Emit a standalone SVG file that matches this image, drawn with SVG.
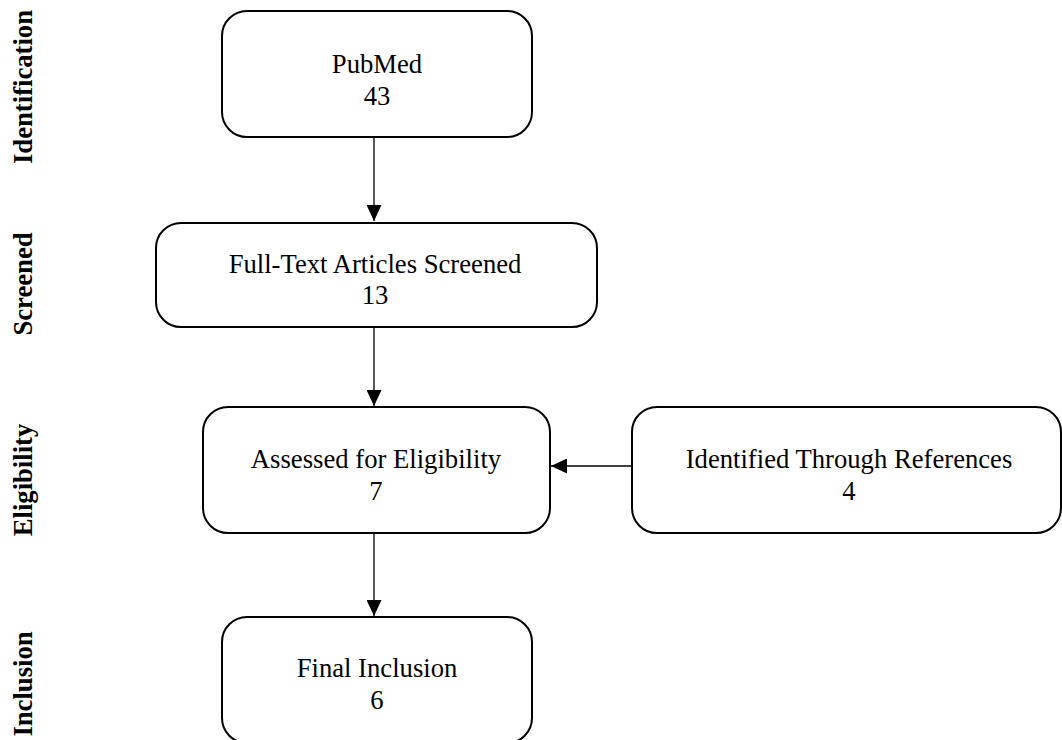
<svg xmlns="http://www.w3.org/2000/svg" width="1062" height="740" viewBox="0 0 1062 740">
<defs>
<marker id="arr" markerUnits="userSpaceOnUse" markerWidth="16" markerHeight="15" refX="16" refY="7.5" orient="auto">
<path d="M0,0 L16,7.5 L0,15 Z" fill="#000"/>
</marker>
<style>
.box{fill:#fff;stroke:#000;stroke-width:2}
.t{font-family:"Liberation Serif","Times New Roman",serif;font-size:26.67px;fill:#000;text-anchor:middle}
.lab{font-family:"Liberation Serif","Times New Roman",serif;font-size:26.67px;font-weight:bold;fill:#000;text-anchor:middle}
.c{stroke:#000;stroke-width:1.3;fill:none}
</style>
</defs>
<rect width="1062" height="740" fill="#fff"/>
<g id="stage-labels">
<text class="lab" transform="translate(32,87) rotate(-90)">Identification</text>
<text class="lab" transform="translate(32,284) rotate(-90)">Screened</text>
<text class="lab" transform="translate(32,480) rotate(-90)">Eligibility</text>
<text class="lab" transform="translate(32,684) rotate(-90)">Inclusion</text>
</g>
<g id="connectors">
<line class="c" x1="374" y1="137" x2="374" y2="221" marker-end="url(#arr)"/>
<line class="c" x1="374" y1="327" x2="374" y2="406" marker-end="url(#arr)"/>
<line class="c" x1="632" y1="466" x2="551" y2="466" marker-end="url(#arr)"/>
<line class="c" x1="374" y1="533" x2="374" y2="616" marker-end="url(#arr)"/>
</g>
<g id="pubmed">
<rect class="box" x="222" y="11" width="310" height="126" rx="25"/>
<text class="t" x="377" y="73">PubMed</text>
<text class="t" x="377" y="105">43</text>
</g>
<g id="screened">
<rect class="box" x="156" y="223" width="441" height="104" rx="25"/>
<text class="t" x="375" y="273">Full-Text Articles Screened</text>
<text class="t" x="375" y="304">13</text>
</g>
<g id="eligibility">
<rect class="box" x="203" y="407" width="347" height="126" rx="25"/>
<text class="t" x="376" y="468">Assessed for Eligibility</text>
<text class="t" x="376" y="500">7</text>
</g>
<g id="references">
<rect class="box" x="632" y="407" width="429" height="126" rx="25"/>
<text class="t" x="849" y="468">Identified Through References</text>
<text class="t" x="849" y="500">4</text>
</g>
<g id="inclusion">
<rect class="box" x="222" y="617" width="310" height="126" rx="25"/>
<text class="t" x="377" y="677">Final Inclusion</text>
<text class="t" x="377" y="709">6</text>
</g>
</svg>
